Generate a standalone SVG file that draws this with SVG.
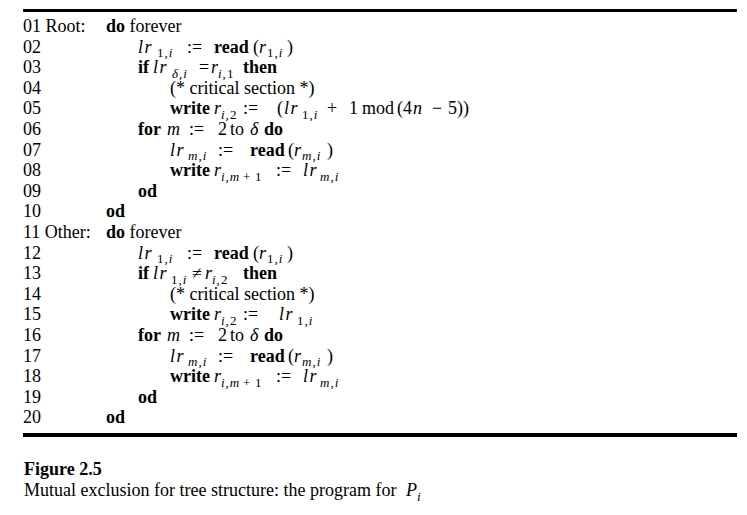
<svg xmlns="http://www.w3.org/2000/svg" width="747" height="515" viewBox="0 0 747 515">
<style>
text{font-family:"Liberation Serif","Times New Roman",serif;font-size:18px;fill:#000}
.b{font-weight:bold}
.i{font-style:italic}
.v{font-style:italic;letter-spacing:1.5px}
.s{font-size:13px;letter-spacing:1px}
.rule{stroke:#000}
</style>
<rect width="747" height="515" fill="#fff"/>
<line class="rule" x1="23" y1="10.5" x2="737" y2="10.5" stroke-width="3"/>
<line class="rule" x1="23" y1="435" x2="737" y2="435" stroke-width="4"/>
<g id="program">
<text id="l01" y="32"><tspan x="23">01 Root:</tspan><tspan x="106" class="b">do</tspan> forever</text>
<text id="l02" y="52.6"><tspan x="23">02</tspan><tspan x="138" class="v">lr</tspan><tspan class="s" x="157" y="57.3">1,</tspan><tspan class="s i">i</tspan><tspan x="187" y="52.6">:=</tspan><tspan x="214" class="b">read</tspan><tspan x="253">(</tspan><tspan class="i" x="259">r</tspan><tspan class="s" x="267" y="57.3">1,</tspan><tspan class="s i">i</tspan><tspan x="287" y="52.6">)</tspan></text>
<text id="l03" y="73.2"><tspan x="23">03</tspan><tspan x="138" class="b">if</tspan><tspan x="153" class="v">lr</tspan><tspan class="s i" x="172" y="77.9">δ,i</tspan><tspan x="199" y="73.2">=</tspan><tspan x="211" class="i">r</tspan><tspan class="s i" x="218" y="77.9">i,</tspan><tspan class="s">1</tspan><tspan x="243" y="73.2" class="b">then</tspan></text>
<text id="l04" y="93.8"><tspan x="23">04</tspan><tspan x="170">(* critical section *)</tspan></text>
<text id="l05" y="114.4"><tspan x="23">05</tspan><tspan x="170" class="b">write</tspan><tspan x="214" class="i">r</tspan><tspan class="s i" x="221" y="119.1">i,</tspan><tspan class="s">2</tspan><tspan x="243" y="114.4">:=</tspan><tspan x="277">(</tspan><tspan x="284" class="v">lr</tspan><tspan class="s" x="302" y="119.1">1,</tspan><tspan class="s i">i</tspan><tspan x="327" y="114.4">+</tspan><tspan x="349">1</tspan><tspan x="362">mod</tspan><tspan x="397">(4</tspan><tspan class="i" x="413">n</tspan><tspan x="432">−</tspan><tspan x="448">5))</tspan></text>
<text id="l06" y="135"><tspan x="23">06</tspan><tspan x="138" class="b">for</tspan><tspan x="167" class="i">m</tspan><tspan x="189">:=</tspan><tspan x="218">2</tspan><tspan x="230">to</tspan><tspan x="250" class="i">δ</tspan><tspan x="264" class="b">do</tspan></text>
<text id="l07" y="155.6"><tspan x="23">07</tspan><tspan x="170" class="v">lr</tspan><tspan class="s i" x="188" y="160.3">m,i</tspan><tspan x="218" y="155.6">:=</tspan><tspan x="250" class="b">read</tspan><tspan x="288">(</tspan><tspan class="i" x="294">r</tspan><tspan class="s i" x="302" y="160.3">m,i</tspan><tspan x="327" y="155.6">)</tspan></text>
<text id="l08" y="176.2"><tspan x="23">08</tspan><tspan x="170" class="b">write</tspan><tspan x="214" class="i">r</tspan><tspan class="s i" x="221" y="180.9">i,m</tspan><tspan class="s" x="243">+</tspan><tspan class="s" x="255">1</tspan><tspan x="276" y="176.2">:=</tspan><tspan x="303" class="v">lr</tspan><tspan class="s i" x="320" y="180.9">m,i</tspan></text>
<text id="l09" y="196.8"><tspan x="23">09</tspan><tspan x="138" class="b">od</tspan></text>
<text id="l10" y="217.4"><tspan x="23">10</tspan><tspan x="106" class="b">od</tspan></text>
<text id="l11" y="238"><tspan x="23">11 Other:</tspan><tspan x="106" class="b">do</tspan> forever</text>
<text id="l12" y="258.6"><tspan x="23">12</tspan><tspan x="138" class="v">lr</tspan><tspan class="s" x="157" y="263.3">1,</tspan><tspan class="s i">i</tspan><tspan x="187" y="258.6">:=</tspan><tspan x="214" class="b">read</tspan><tspan x="253">(</tspan><tspan class="i" x="259">r</tspan><tspan class="s" x="267" y="263.3">1,</tspan><tspan class="s i">i</tspan><tspan x="287" y="258.6">)</tspan></text>
<text id="l13" y="279.2"><tspan x="23">13</tspan><tspan x="138" class="b">if</tspan><tspan x="153" class="v">lr</tspan><tspan class="s" x="171" y="283.9">1,</tspan><tspan class="s i">i</tspan><tspan x="192" y="279.2">≠</tspan><tspan x="205" class="i">r</tspan><tspan class="s i" x="212" y="283.9">i,</tspan><tspan class="s">2</tspan><tspan x="243" y="279.2" class="b">then</tspan></text>
<text id="l14" y="299.8"><tspan x="23">14</tspan><tspan x="170">(* critical section *)</tspan></text>
<text id="l15" y="320.4"><tspan x="23">15</tspan><tspan x="170" class="b">write</tspan><tspan x="214" class="i">r</tspan><tspan class="s i" x="221" y="325.1">i,</tspan><tspan class="s">2</tspan><tspan x="243" y="320.4">:=</tspan><tspan x="279" class="v">lr</tspan><tspan class="s" x="297" y="325.1">1,</tspan><tspan class="s i">i</tspan></text>
<text id="l16" y="341"><tspan x="23">16</tspan><tspan x="138" class="b">for</tspan><tspan x="167" class="i">m</tspan><tspan x="189">:=</tspan><tspan x="218">2</tspan><tspan x="230">to</tspan><tspan x="250" class="i">δ</tspan><tspan x="264" class="b">do</tspan></text>
<text id="l17" y="361.6"><tspan x="23">17</tspan><tspan x="170" class="v">lr</tspan><tspan class="s i" x="188" y="366.3">m,i</tspan><tspan x="218" y="361.6">:=</tspan><tspan x="250" class="b">read</tspan><tspan x="288">(</tspan><tspan class="i" x="294">r</tspan><tspan class="s i" x="302" y="366.3">m,i</tspan><tspan x="327" y="361.6">)</tspan></text>
<text id="l18" y="382.2"><tspan x="23">18</tspan><tspan x="170" class="b">write</tspan><tspan x="214" class="i">r</tspan><tspan class="s i" x="221" y="386.9">i,m</tspan><tspan class="s" x="243">+</tspan><tspan class="s" x="255">1</tspan><tspan x="276" y="382.2">:=</tspan><tspan x="303" class="v">lr</tspan><tspan class="s i" x="320" y="386.9">m,i</tspan></text>
<text id="l19" y="402.8"><tspan x="23">19</tspan><tspan x="138" class="b">od</tspan></text>
<text id="l20" y="423.4"><tspan x="23">20</tspan><tspan x="106" class="b">od</tspan></text>
</g>
<g id="caption">
<text x="24" y="475" class="b">Figure 2.5</text>
<text x="24" y="496">Mutual exclusion for tree structure: the program for <tspan class="i" x="406">P</tspan><tspan class="s i" x="417" y="500.5">i</tspan></text>
</g>
</svg>
